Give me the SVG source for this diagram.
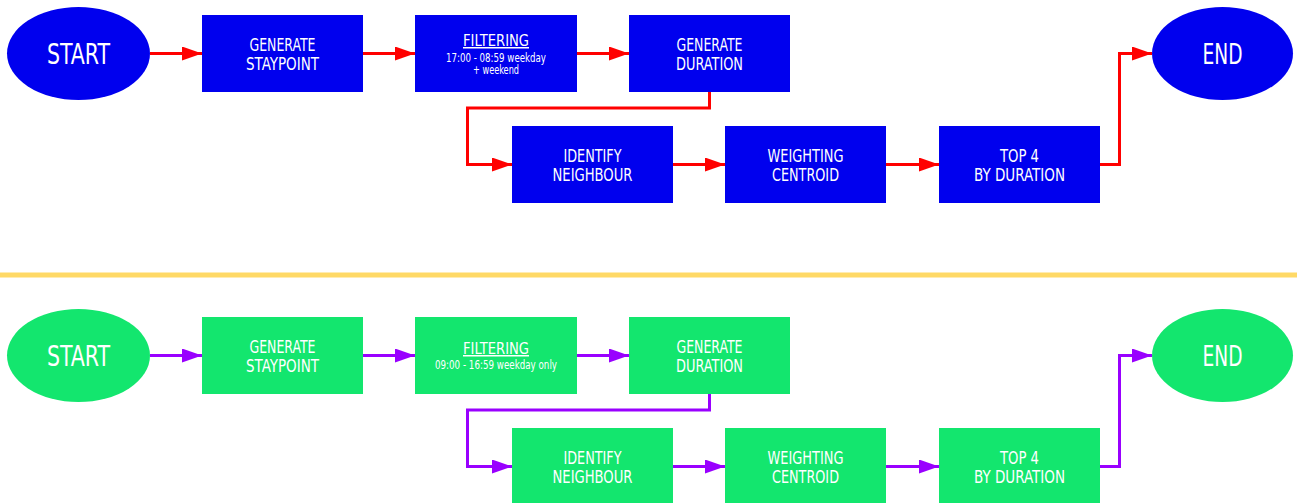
<svg xmlns="http://www.w3.org/2000/svg" width="1297" height="503" viewBox="0 0 1297 503">
<style>
.b{fill:#0000ee}
.g{fill:#13e66e}
text{fill:#fff;font-family:"DejaVu Sans Condensed","DejaVu Sans","Liberation Sans",sans-serif;text-anchor:middle}
.lbl{font-size:18px}
.big{font-size:28px}
.ttl{font-size:15px;text-decoration:underline}
.sub{font-size:11.5px}
.cr{fill:none;stroke:#ff0000;stroke-width:3}
.cp{fill:none;stroke:#9900ff;stroke-width:3}
</style>
<defs>
<marker id="ar" markerUnits="userSpaceOnUse" markerWidth="20" markerHeight="14" viewBox="0 0 20 14" refX="20" refY="7" orient="auto"><path d="M0,0 L20,7 L0,14 z" fill="#ff0000"/></marker>
<marker id="ap" markerUnits="userSpaceOnUse" markerWidth="20" markerHeight="14" viewBox="0 0 20 14" refX="20" refY="7" orient="auto"><path d="M0,0 L20,7 L0,14 z" fill="#9900ff"/></marker>
</defs>
<rect x="0" y="272.5" width="1297" height="5" fill="#ffd966"/>
<g id="connectors">
<path class="cr" marker-end="url(#ar)" d="M150,53.5 H202"/>
<path class="cr" marker-end="url(#ar)" d="M363,53.5 H415"/>
<path class="cr" marker-end="url(#ar)" d="M577,53.5 H629"/>
<path class="cr" marker-end="url(#ar)" d="M709.5,92 V108 H467.5 V164.5 H512"/>
<path class="cr" marker-end="url(#ar)" d="M673,164.5 H725"/>
<path class="cr" marker-end="url(#ar)" d="M886,164.5 H939"/>
<path class="cr" marker-end="url(#ar)" d="M1100,164.5 H1119.5 V53.5 H1152"/>
<path class="cp" marker-end="url(#ap)" d="M150,355.5 H202"/>
<path class="cp" marker-end="url(#ap)" d="M363,355.5 H415"/>
<path class="cp" marker-end="url(#ap)" d="M577,355.5 H629"/>
<path class="cp" marker-end="url(#ap)" d="M709.5,394 V410 H467.5 V466.5 H512"/>
<path class="cp" marker-end="url(#ap)" d="M673,466.5 H725"/>
<path class="cp" marker-end="url(#ap)" d="M886,466.5 H939"/>
<path class="cp" marker-end="url(#ap)" d="M1100,466.5 H1119.5 V355.5 H1152"/>
</g>
<g id="start1"><ellipse class="b" cx="78.5" cy="53.5" rx="71.5" ry="46.5"/><text class="big" x="78.5" y="63.5" textLength="63" lengthAdjust="spacingAndGlyphs">START</text></g>
<g id="staypoint1"><rect class="b" x="202" y="15" width="161" height="77"/><text class="lbl" x="282.5" y="50.5" textLength="66" lengthAdjust="spacingAndGlyphs">GENERATE</text><text class="lbl" x="282.5" y="69.5" textLength="73" lengthAdjust="spacingAndGlyphs">STAYPOINT</text></g>
<g id="filter1"><rect class="b" x="415" y="15" width="162" height="77"/><text class="ttl" x="496" y="46" textLength="66" lengthAdjust="spacingAndGlyphs">FILTERING</text><text class="sub" x="496" y="62" textLength="100" lengthAdjust="spacingAndGlyphs">17:00 - 08:59 weekday</text><text class="sub" x="496" y="73.5" textLength="46" lengthAdjust="spacingAndGlyphs">+ weekend</text></g>
<g id="duration1"><rect class="b" x="629" y="15" width="161" height="77"/><text class="lbl" x="709.5" y="50.5" textLength="66" lengthAdjust="spacingAndGlyphs">GENERATE</text><text class="lbl" x="709.5" y="69.5" textLength="67" lengthAdjust="spacingAndGlyphs">DURATION</text></g>
<g id="neighbour1"><rect class="b" x="512" y="126" width="161" height="77"/><text class="lbl" x="592.5" y="161.5" textLength="58" lengthAdjust="spacingAndGlyphs">IDENTIFY</text><text class="lbl" x="592.5" y="180.5" textLength="80" lengthAdjust="spacingAndGlyphs">NEIGHBOUR</text></g>
<g id="centroid1"><rect class="b" x="725" y="126" width="161" height="77"/><text class="lbl" x="805.5" y="161.5" textLength="76" lengthAdjust="spacingAndGlyphs">WEIGHTING</text><text class="lbl" x="805.5" y="180.5" textLength="67" lengthAdjust="spacingAndGlyphs">CENTROID</text></g>
<g id="top1"><rect class="b" x="939" y="126" width="161" height="77"/><text class="lbl" x="1019.5" y="161.5" textLength="39" lengthAdjust="spacingAndGlyphs">TOP 4</text><text class="lbl" x="1019.5" y="180.5" textLength="91" lengthAdjust="spacingAndGlyphs">BY DURATION</text></g>
<g id="end1"><ellipse class="b" cx="1222.5" cy="53.5" rx="70.5" ry="46.5"/><text class="big" x="1222.5" y="63.5" textLength="40" lengthAdjust="spacingAndGlyphs">END</text></g>
<g id="start2"><ellipse class="g" cx="78.5" cy="355.5" rx="71.5" ry="46.5"/><text class="big" x="78.5" y="365.5" textLength="63" lengthAdjust="spacingAndGlyphs">START</text></g>
<g id="staypoint2"><rect class="g" x="202" y="317" width="161" height="77"/><text class="lbl" x="282.5" y="352.5" textLength="66" lengthAdjust="spacingAndGlyphs">GENERATE</text><text class="lbl" x="282.5" y="371.5" textLength="73" lengthAdjust="spacingAndGlyphs">STAYPOINT</text></g>
<g id="filter2"><rect class="g" x="415" y="317" width="162" height="77"/><text class="ttl" x="496" y="354" textLength="66" lengthAdjust="spacingAndGlyphs">FILTERING</text><text class="sub" x="496" y="369" textLength="122" lengthAdjust="spacingAndGlyphs">09:00 - 16:59 weekday only</text></g>
<g id="duration2"><rect class="g" x="629" y="317" width="161" height="77"/><text class="lbl" x="709.5" y="352.5" textLength="66" lengthAdjust="spacingAndGlyphs">GENERATE</text><text class="lbl" x="709.5" y="371.5" textLength="67" lengthAdjust="spacingAndGlyphs">DURATION</text></g>
<g id="neighbour2"><rect class="g" x="512" y="428" width="161" height="77"/><text class="lbl" x="592.5" y="463.5" textLength="58" lengthAdjust="spacingAndGlyphs">IDENTIFY</text><text class="lbl" x="592.5" y="482.5" textLength="80" lengthAdjust="spacingAndGlyphs">NEIGHBOUR</text></g>
<g id="centroid2"><rect class="g" x="725" y="428" width="161" height="77"/><text class="lbl" x="805.5" y="463.5" textLength="76" lengthAdjust="spacingAndGlyphs">WEIGHTING</text><text class="lbl" x="805.5" y="482.5" textLength="67" lengthAdjust="spacingAndGlyphs">CENTROID</text></g>
<g id="top2"><rect class="g" x="939" y="428" width="161" height="77"/><text class="lbl" x="1019.5" y="463.5" textLength="39" lengthAdjust="spacingAndGlyphs">TOP 4</text><text class="lbl" x="1019.5" y="482.5" textLength="91" lengthAdjust="spacingAndGlyphs">BY DURATION</text></g>
<g id="end2"><ellipse class="g" cx="1222.5" cy="355.5" rx="70.5" ry="46.5"/><text class="big" x="1222.5" y="365.5" textLength="40" lengthAdjust="spacingAndGlyphs">END</text></g>
</svg>
